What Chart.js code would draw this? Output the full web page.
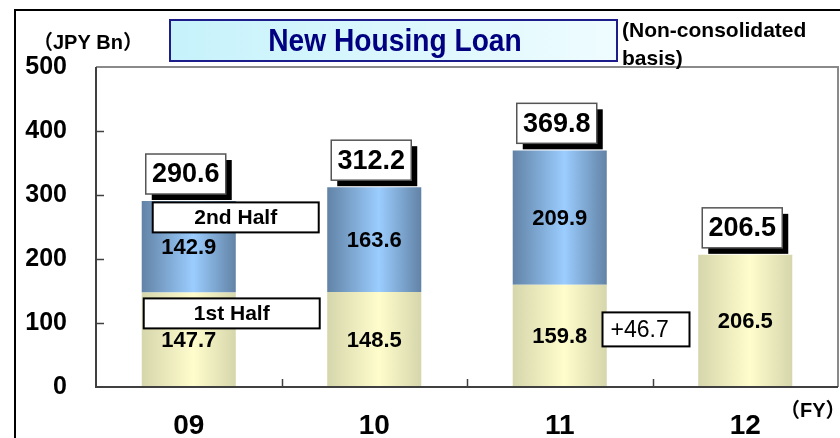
<!DOCTYPE html>
<html>
<head>
<meta charset="utf-8">
<script src="https://cdn.jsdelivr.net/npm/chart.js@4"></script>
<style>
  body { margin: 0; background: #fff; }
  #wrap { width: 840px; height: 438px; }
</style>
</head>
<body>
<div id="wrap"><canvas id="loanChart" width="840" height="438"></canvas></div>
<script>
const years = ["09", "10", "11", "12"];
const firstHalf = [147.7, 148.5, 159.8, 206.5];
const secondHalf = [142.9, 163.6, 209.9, null];
const totals = [290.6, 312.2, 369.8, 206.5];
const yTicks = [0, 100, 200, 300, 400, 500];

const FONT = "'Liberation Sans', Arial, 'Noto Sans CJK JP', sans-serif";
const BAR_PCT = 0.507;

// horizontal gradient across each bar, like the cylinder shading
function barGradient(edge, mid) {
  return ctx => {
    const chart = ctx.chart;
    const x = chart.scales.x;
    if (!x || ctx.dataIndex == null || !chart.chartArea) return mid;
    const cx = x.getPixelForValue(ctx.dataIndex);
    const half = (x.width / years.length) * BAR_PCT / 2;
    const g = chart.ctx.createLinearGradient(cx - half, 0, cx + half, 0);
    g.addColorStop(0, edge);
    g.addColorStop(0.55, mid);
    g.addColorStop(1, edge);
    return g;
  };
}

function boxText(c, text, x, y, w, h, font, align) {
  c.fillStyle = "#fff";
  c.fillRect(x, y, w, h);
  c.strokeStyle = "#000";
  c.lineWidth = 2;
  c.strokeRect(x, y, w, h);
  c.fillStyle = "#000";
  c.font = font;
  c.textBaseline = "middle";
  if (align === "left") {
    c.textAlign = "left";
    c.fillText(text, x + 8, y + h / 2 + 1);
  } else {
    c.textAlign = "center";
    c.fillText(text, x + w / 2, y + h / 2 + 1);
  }
}

const decor = {
  id: "decor",
  beforeDraw(chart) {
    const c = chart.ctx;
    c.save();
    c.fillStyle = "#fff";
    c.fillRect(0, 0, chart.width, chart.height);
    c.restore();
  },
  afterDatasetsDraw(chart) {
    const c = chart.ctx;
    const a = chart.chartArea;
    const x = chart.scales.x;
    const y = chart.scales.y;
    c.save();

    // plot frame
    c.lineWidth = 2;
    c.strokeStyle = "#8a8a8a";
    c.beginPath();
    c.moveTo(a.left, a.top);
    c.lineTo(a.right, a.top);
    c.lineTo(a.right, a.bottom);
    c.stroke();
    c.strokeStyle = "#404040";
    c.beginPath();
    c.moveTo(a.left, a.top);
    c.lineTo(a.left, a.bottom);
    c.lineTo(a.right, a.bottom);
    c.stroke();

    // inward tick marks
    c.lineWidth = 1.5;
    yTicks.slice(1, -1).forEach(v => {
      const py = Math.round(y.getPixelForValue(v)) + 0.5;
      c.beginPath();
      c.moveTo(a.left, py);
      c.lineTo(a.left + 8, py);
      c.stroke();
    });
    for (let i = 0; i < years.length - 1; i++) {
      const px = Math.round((x.getPixelForValue(i) + x.getPixelForValue(i + 1)) / 2) + 0.5;
      c.beginPath();
      c.moveTo(px, a.bottom);
      c.lineTo(px, a.bottom - 8);
      c.stroke();
    }

    // segment labels
    c.fillStyle = "#000";
    c.font = "bold 22px " + FONT;
    c.textAlign = "center";
    c.textBaseline = "middle";
    chart.data.datasets.forEach((ds, di) => {
      chart.getDatasetMeta(di).data.forEach((bar, i) => {
        if (ds.data[i] == null) return;
        const p = bar.getProps(["x", "y", "base"], true);
        c.fillText(ds.data[i].toFixed(1), p.x, (p.y + p.base) / 2 + 1);
      });
    });

    // total labels with shadowed boxes
    totals.forEach((t, i) => {
      const cx = x.getPixelForValue(i);
      const top = y.getPixelForValue(t);
      const w = 80, h = 40;
      const bx = cx - w / 2 - 3, by = top - 7 - h;
      c.fillStyle = "#000";
      c.fillRect(bx + 6, by + 6, w, h);
      c.fillStyle = "#fff";
      c.fillRect(bx, by, w, h);
      c.strokeStyle = "#555";
      c.lineWidth = 1.5;
      c.strokeRect(bx, by, w, h);
      c.fillStyle = "#000";
      c.font = "bold 27px " + FONT;
      c.textAlign = "center";
      c.fillText(t.toFixed(1), bx + w / 2, by + h / 2 + 1);
    });

    // half-year tags and the growth box
    const left0 = x.getPixelForValue(0) - (x.width / years.length) * BAR_PCT / 2;
    boxText(c, "2nd Half", left0 + 11, y.getPixelForValue(265) - 15, 166, 30, "bold 21px " + FONT);
    boxText(c, "1st Half", left0 + 2, y.getPixelForValue(115) - 15, 176, 30, "bold 21px " + FONT);
    const mid23 = (x.getPixelForValue(2) + x.getPixelForValue(3)) / 2;
    boxText(c, "+46.7", mid23 - 50, y.getPixelForValue(90) - 17, 87, 34, "23px " + FONT, "left");

    // outer frame
    c.strokeStyle = "#000";
    c.lineWidth = 2;
    c.beginPath();
    c.moveTo(15, chart.height);
    c.lineTo(15, 10);
    c.lineTo(chart.width, 10);
    c.stroke();

    // title box
    const tg = c.createLinearGradient(170, 0, 617, 0);
    tg.addColorStop(0, "#c6f2fb");
    tg.addColorStop(1, "#effcff");
    c.fillStyle = tg;
    c.fillRect(170, 20, 447, 41);
    c.strokeStyle = "#1c1c8a";
    c.lineWidth = 2;
    c.strokeRect(170, 20, 447, 41);
    c.save();
    c.translate(395, 42);
    c.scale(0.88, 1);
    c.fillStyle = "#000080";
    c.font = "bold 32px " + FONT;
    c.textAlign = "center";
    c.fillText("New Housing Loan", 0, 0);
    c.restore();

    // unit notes
    c.fillStyle = "#000";
    c.font = "bold 20px " + FONT;
    c.textAlign = "left";
    c.fillText("（JPY Bn）", 33, 43);
    c.font = "bold 21px " + FONT;
    c.fillText("(Non-consolidated", 622, 31);
    c.fillText("basis)", 622, 59);
    c.font = "bold 20px " + FONT;
    c.fillText("（FY）", 780, 411);
    c.restore();
  }
};

new Chart(document.getElementById("loanChart"), {
  type: "bar",
  data: {
    labels: years,
    datasets: [
      {
        label: "1st Half",
        data: firstHalf,
        backgroundColor: barGradient("#d6d6ac", "#fffdcc"),
        barPercentage: BAR_PCT,
        categoryPercentage: 1
      },
      {
        label: "2nd Half",
        data: secondHalf,
        backgroundColor: barGradient("#6283a6", "#9bcdff"),
        barPercentage: BAR_PCT,
        categoryPercentage: 1
      }
    ]
  },
  options: {
    responsive: false,
    animation: false,
    layout: { padding: { left: 15, top: 67, right: 2, bottom: 0 } },
    plugins: { legend: { display: false }, tooltip: { enabled: false } },
    scales: {
      x: {
        stacked: true,
        grid: { display: false, drawTicks: false },
        border: { display: false },
        ticks: { color: "#000", font: { size: 28, weight: "bold", family: FONT }, padding: 22 },
        afterFit: s => { s.height = 51; }
      },
      y: {
        stacked: true,
        min: 0,
        max: 500,
        afterBuildTicks: s => { s.ticks = yTicks.map(v => ({ value: v })); },
        grid: { display: false, drawTicks: false },
        border: { display: false },
        ticks: { color: "#000", font: { size: 25, weight: "bold", family: FONT }, padding: 29 },
        afterFit: s => { s.width = 81; }
      }
    }
  },
  plugins: [decor]
});
</script>
</body>
</html>
